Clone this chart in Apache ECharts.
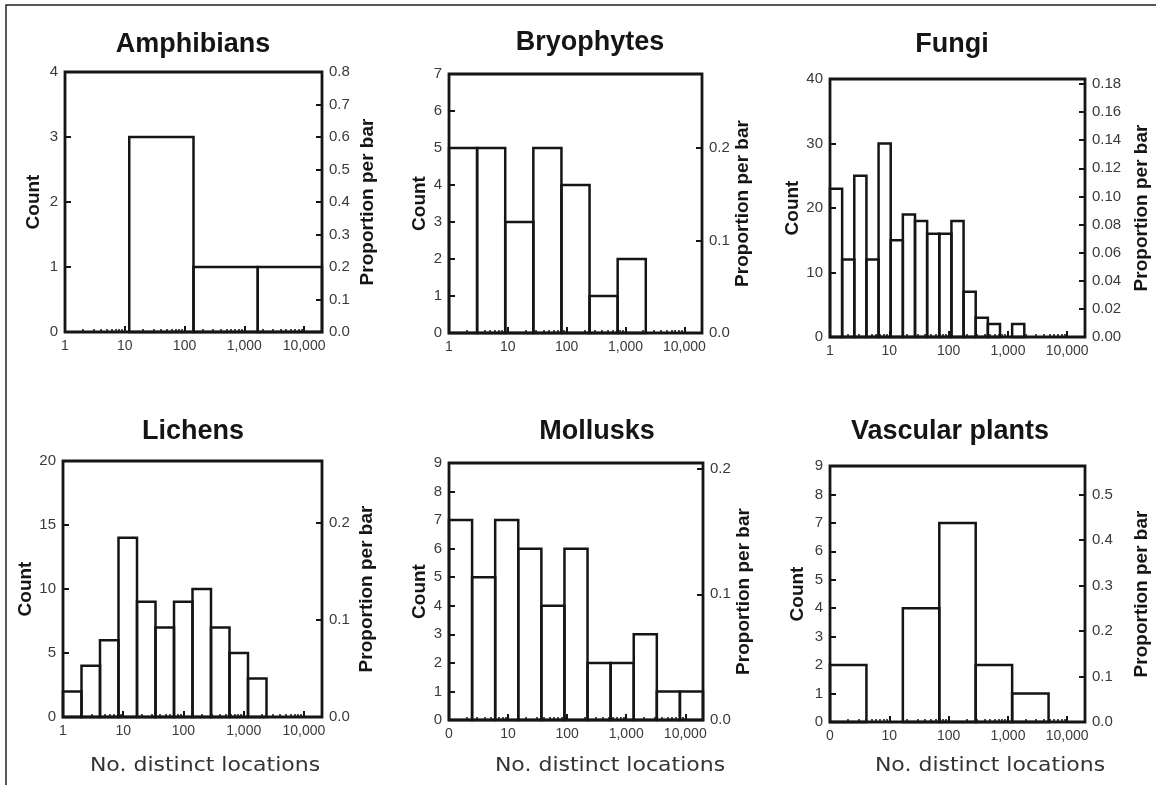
<!DOCTYPE html>
<html>
<head>
<meta charset="utf-8">
<script src="https://cdn.jsdelivr.net/npm/echarts@6/dist/echarts.min.js"></script>
<style>
html,body{margin:0;padding:0;background:#fff;}
#chart{width:1156px;height:785px;}
</style>
</head>
<body>
<div id="chart"></div>
<script>
// ---------- data ----------
// x axis is log10(No. distinct locations); histogram bins are equal width on that scale
const xMaxLog = 4.3;
const xTickLabelsOne = ['1', '10', '100', '1,000', '10,000'];
const xTickLabelsZero = ['0', '10', '100', '1,000', '10,000'];

const panelTitles = ['Amphibians', 'Bryophytes', 'Fungi', 'Lichens', 'Mollusks', 'Vascular plants'];

const amphibianCounts = [0, 3, 1, 1];
const bryophyteCounts = [5, 5, 3, 5, 4, 1, 2, 0, 0];
const fungiCounts = [23, 12, 25, 12, 30, 15, 19, 18, 16, 16, 18, 7, 3, 2, 0, 2, 0, 0, 0, 0, 0];
const lichenCounts = [2, 4, 6, 14, 9, 7, 9, 10, 7, 5, 3, 0, 0, 0];
const molluskCounts = [7, 5, 7, 6, 4, 6, 2, 2, 3, 1, 1];
const vascularCounts = [2, 0, 4, 7, 2, 1, 0];

// left (count) axis: max and step
const countAxisMax = [4, 7, 40, 20, 9, 9];
const countAxisStep = [1, 1, 10, 5, 1, 1];

// right (proportion per bar) axis tick values
const amphibianPropTicks = [0, 0.1, 0.2, 0.3, 0.4, 0.5, 0.6, 0.7, 0.8];
const bryophytePropTicks = [0, 0.1, 0.2];
const fungiPropTicks = [0, 0.02, 0.04, 0.06, 0.08, 0.10, 0.12, 0.14, 0.16, 0.18];
const lichenPropTicks = [0, 0.1, 0.2];
const molluskPropTicks = [0, 0.1, 0.2];
const vascularPropTicks = [0, 0.1, 0.2, 0.3, 0.4, 0.5];
const propDecimals = [1, 1, 2, 1, 1, 1];

// ---------- layout (pixels) ----------
const layout = [
  {left: 65,  top: 72,  width: 257, height: 260, title: [193, 45],  countGap: 22, propGap: 36, xName: null},
  {left: 449, top: 74,  width: 253, height: 259, title: [590, 43],  countGap: 17, propGap: 30, xName: null},
  {left: 830, top: 79,  width: 255, height: 258, title: [952, 45],  countGap: 27, propGap: 47, xName: null},
  {left: 63,  top: 461, width: 259, height: 256, title: [193, 432], countGap: 23, propGap: 35, xName: [205, 766]},
  {left: 449, top: 463, width: 254, height: 257, title: [597, 432], countGap: 19, propGap: 29, xName: [610, 766]},
  {left: 830, top: 466, width: 255, height: 256, title: [950, 432], countGap: 23, propGap: 47, xName: [990, 766]}
];

const panelCounts = [amphibianCounts, bryophyteCounts, fungiCounts, lichenCounts, molluskCounts, vascularCounts];
const panelPropTicks = [amphibianPropTicks, bryophytePropTicks, fungiPropTicks, lichenPropTicks, molluskPropTicks, vascularPropTicks];
const panelXLabels = [xTickLabelsOne, xTickLabelsOne, xTickLabelsOne, xTickLabelsOne, xTickLabelsZero, xTickLabelsZero];

// decade and minor tick positions on the log10 axis
const majorTicks = [0, 1, 2, 3, 4];
const minorTicks = [];
for (let d = 0; d < 4; d++) {
  for (let k = 2; k <= 9; k++) minorTicks.push(d + Math.log10(k));
}

const FONT = '"Liberation Sans", Arial, Helvetica, sans-serif';
const INK = '#151515';
const LABEL = '#3a3a3a';

const option = {
  animation: false,
  backgroundColor: '#fff',
  title: [],
  grid: [],
  xAxis: [],
  yAxis: [],
  series: [],
  graphic: []
};

panelCounts.forEach((counts, p) => {
  const L = layout[p];
  const total = counts.reduce((a, b) => a + b, 0);
  const binW = xMaxLog / counts.length;

  option.title.push({
    text: panelTitles[p],
    left: L.title[0], top: L.title[1],
    textAlign: 'center', textVerticalAlign: 'middle',
    padding: 0,
    textStyle: {fontFamily: FONT, fontSize: 27, fontWeight: 'bold', color: INK}
  });

  option.grid.push({
    left: L.left, top: L.top, width: L.width, height: L.height,
    show: true, borderColor: INK, borderWidth: 2.8, backgroundColor: 'transparent',
    containLabel: false
  });

  const labels = panelXLabels[p];
  option.xAxis.push({
    type: 'value', gridIndex: p, position: 'bottom',
    min: 0, max: xMaxLog,
    axisLine: {show: false, onZero: false},
    splitLine: {show: false},
    axisTick: {show: true, inside: true, length: 6, customValues: majorTicks, lineStyle: {color: INK, width: 2}},
    axisLabel: {
      show: true, customValues: majorTicks, margin: 7,
      fontFamily: FONT, fontSize: 14, color: LABEL,
      formatter: v => labels[Math.round(v)]
    }
  });
  option.xAxis.push({
    type: 'value', gridIndex: p, position: 'bottom',
    min: 0, max: xMaxLog,
    axisLine: {show: false, onZero: false},
    splitLine: {show: false},
    axisLabel: {show: false},
    axisTick: {show: true, inside: true, length: 3, customValues: minorTicks, lineStyle: {color: INK, width: 1.5}}
  });

  option.yAxis.push({
    type: 'value', gridIndex: p, position: 'left',
    min: 0, max: countAxisMax[p], interval: countAxisStep[p],
    name: 'Count', nameLocation: 'middle', nameGap: L.countGap,
    nameTextStyle: {fontFamily: FONT, fontSize: 19, fontWeight: 'bold', color: INK},
    axisLine: {show: false, onZero: false},
    splitLine: {show: false},
    axisTick: {show: true, inside: true, length: 6, lineStyle: {color: INK, width: 2}},
    axisLabel: {margin: 7, fontFamily: FONT, fontSize: 15, color: LABEL}
  });
  const pt = panelPropTicks[p];
  const dec = propDecimals[p];
  option.yAxis.push({
    type: 'value', gridIndex: p, position: 'right',
    min: 0, max: countAxisMax[p] / total,
    name: 'Proportion per bar', nameLocation: 'middle', nameGap: L.propGap,
    nameTextStyle: {fontFamily: FONT, fontSize: 19, fontWeight: 'bold', color: INK},
    axisLine: {show: false, onZero: false},
    splitLine: {show: false},
    axisTick: {show: true, inside: true, length: 6, customValues: pt, lineStyle: {color: INK, width: 2}},
    axisLabel: {customValues: pt, margin: 7, fontFamily: FONT, fontSize: 15, color: LABEL,
      formatter: v => v.toFixed(dec)}
  });

  const data = counts.map((c, i) => [i * binW, (i + 1) * binW, c]);
  option.series.push({
    type: 'custom',
    name: panelTitles[p],
    xAxisIndex: 2 * p, yAxisIndex: 2 * p,
    data: data,
    encode: {x: [0, 1], y: 2},
    z: 3,
    renderItem: (params, api) => {
      const c = api.value(2);
      if (!c) return null;
      const a = api.coord([api.value(0), 0]);
      const b = api.coord([api.value(1), c]);
      return {
        type: 'rect',
        shape: {x: a[0], y: b[1], width: b[0] - a[0], height: a[1] - b[1]},
        style: {fill: 'none', stroke: INK, lineWidth: 2.5}
      };
    }
  });

  if (L.xName) {
    option.graphic.push({
      type: 'text', x: L.xName[0], y: L.xName[1], scaleX: 1.1,
      style: {text: 'No. distinct locations', align: 'center', verticalAlign: 'middle',
        font: '20px "DejaVu Sans", Verdana, sans-serif', fill: '#333'}
    });
  }
});

// outer figure frame (top and left edges)
option.graphic.push({
  type: 'polyline', silent: true,
  shape: {points: [[1156, 5], [6, 5], [6, 785]]},
  style: {stroke: '#222', lineWidth: 1.5, fill: null}
});

const chart = echarts.init(document.getElementById('chart'), null, {renderer: 'canvas'});
chart.setOption(option);
</script>
</body>
</html>
